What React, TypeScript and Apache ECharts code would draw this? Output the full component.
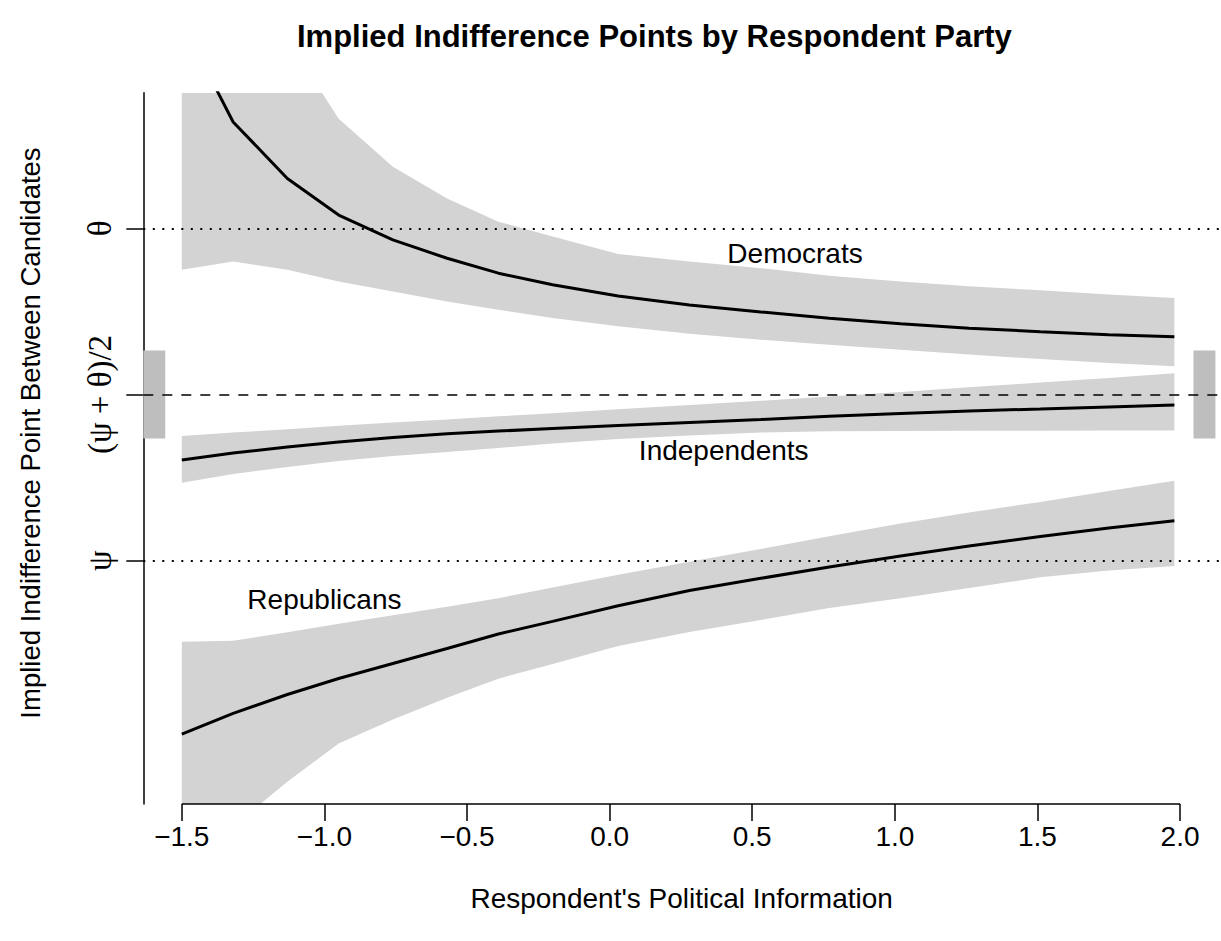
import React, { useEffect, useRef } from "react";
import * as echarts from "echarts";

// ---- data ----
const xValues = [-1.5, -1.32, -1.13, -0.95, -0.76, -0.57, -0.39, -0.2, 0.03, 0.28, 0.53, 0.77, 1.02, 1.26, 1.51, 1.75, 1.98];

const demLine = [2.24, 1.64, 1.3, 1.08, 0.93, 0.82, 0.73, 0.66, 0.593, 0.539, 0.497, 0.459, 0.426, 0.399, 0.378, 0.36, 0.348];
const demUpper = [3.3, 2.7, 2.14, 1.66, 1.37, 1.18, 1.04, 0.95, 0.845, 0.8, 0.76, 0.715, 0.68, 0.652, 0.627, 0.602, 0.58];
const demLower = [0.75, 0.8, 0.75, 0.68, 0.62, 0.56, 0.51, 0.46, 0.41, 0.365, 0.33, 0.3, 0.27, 0.24, 0.213, 0.19, 0.17];

const indLine = [-0.394, -0.352, -0.316, -0.286, -0.259, -0.236, -0.22, -0.205, -0.187, -0.168, -0.15, -0.131, -0.114, -0.099, -0.087, -0.075, -0.063];
const indUpper = [-0.25, -0.229, -0.209, -0.188, -0.168, -0.15, -0.131, -0.113, -0.088, -0.063, -0.038, -0.012, 0.015, 0.043, 0.072, 0.1, 0.128];
const indLower = [-0.531, -0.478, -0.436, -0.4, -0.37, -0.346, -0.322, -0.295, -0.268, -0.247, -0.229, -0.221, -0.22, -0.218, -0.218, -0.217, -0.217];

const repLine = [-2.043, -1.919, -1.805, -1.709, -1.619, -1.528, -1.441, -1.365, -1.271, -1.179, -1.106, -1.038, -0.972, -0.911, -0.854, -0.803, -0.759];
const repUpper = [-1.487, -1.481, -1.431, -1.38, -1.329, -1.277, -1.226, -1.162, -1.084, -1.007, -0.93, -0.853, -0.776, -0.71, -0.647, -0.581, -0.519];
const repLower = [-2.86, -2.6, -2.33, -2.1, -1.955, -1.825, -1.71, -1.622, -1.513, -1.429, -1.357, -1.285, -1.226, -1.164, -1.1, -1.059, -1.032];

const partyNames = ["Democrats", "Independents", "Republicans"];
const partyLabelX = [0.65, 0.4, -1.0];
const partyLabelY = [0.851, -0.334, -1.236];

// indifference-region markers at both sides: [x0, x1, y0, y1]
const sideRects = [
  [-1.635, -1.558, -0.265, 0.265],
  [2.047, 2.124, -0.265, 0.265],
];

const xTicks = [-1.5, -1.0, -0.5, 0.0, 0.5, 1.0, 1.5, 2.0];
const yTicks = [-1, 0, 1];
const yTickLabels = ["ψ", "(ψ + θ)/2", "θ"];
const refLevels = [1, 0, -1];

const X_MIN = -1.635;
const X_MAX = 2.14;
const Y_MIN = -2.464;
const Y_MAX = 1.816;

const SANS = "'Liberation Sans', Arial, Helvetica, sans-serif";
const SERIF = "'Liberation Serif', 'DejaVu Serif', 'Times New Roman', serif";

function bandSeries(upper: number[], lower: number[]) {
  return {
    type: "custom",
    coordinateSystem: "cartesian2d",
    clip: true,
    z: 3,
    silent: true,
    data: [[xValues[0], lower[0]]],
    renderItem: (params: any, api: any) => {
      const pts: number[][] = [];
      for (let i = 0; i < xValues.length; i++) pts.push(api.coord([xValues[i], upper[i]]));
      for (let i = xValues.length - 1; i >= 0; i--) pts.push(api.coord([xValues[i], lower[i]]));
      const cs = params.coordSys;
      return {
        type: "polygon",
        shape: { points: pts },
        style: { fill: "#D3D3D3", stroke: null },
        clipPath: { type: "rect", shape: { x: cs.x, y: cs.y, width: cs.width, height: cs.height } },
      };
    },
  };
}

function lineSeries(vals: number[]) {
  return {
    type: "line",
    data: xValues.map((x, i) => [x, vals[i]]),
    symbol: "none",
    clip: true,
    z: 5,
    silent: true,
    lineStyle: { color: "#000", width: 3 },
  };
}

export default function App() {
  const ref = useRef<HTMLDivElement>(null);
  useEffect(() => {
    if (!ref.current) return;
    const chart = echarts.init(ref.current, undefined, { renderer: "svg" });
    const option: any = {
      animation: false,
      backgroundColor: "#fff",
      title: {
        text: "Implied Indifference Points by Respondent Party",
        left: 292,
        top: 16,
        textStyle: { fontFamily: SANS, fontWeight: "bold", fontSize: 31, color: "#000" },
      },
      grid: { left: 143.3, right: 1, top: 92.7, bottom: 137 },
      xAxis: {
        type: "value",
        min: X_MIN,
        max: X_MAX,
        splitLine: { show: false },
        axisLine: { show: false, onZero: false },
        axisTick: { show: true, customValues: xTicks, length: 17, lineStyle: { color: "#000", width: 1.5 } },
        axisLabel: {
          customValues: xTicks,
          fontFamily: SANS,
          fontSize: 28,
          color: "#000",
          margin: 18,
          formatter: (v: number) => v.toFixed(1).replace("-", "\u2212"),
        },
        name: "Respondent's Political Information",
        nameLocation: "middle",
        nameGap: 80,
        nameTextStyle: { fontFamily: SANS, fontSize: 28, color: "#000" },
      },
      yAxis: {
        type: "value",
        min: Y_MIN,
        max: Y_MAX,
        splitLine: { show: false },
        axisLine: { show: true, onZero: false, lineStyle: { color: "#000", width: 1.5 } },
        axisTick: { show: true, customValues: yTicks, length: 17, lineStyle: { color: "#000", width: 1.5 } },
        axisLabel: {
          customValues: yTicks,
          rotate: 90,
          fontFamily: SERIF,
          fontSize: 33,
          color: "#000",
          margin: 27,
          formatter: (v: number) => {
            const i = yTicks.findIndex((t) => Math.abs(t - v) < 1e-6);
            return i >= 0 ? yTickLabels[i] : "";
          },
        },
      },
      graphic: [
        {
          type: "text",
          x: 30,
          y: 433,
          rotation: Math.PI / 2,
          style: {
            text: "Implied Indifference Point Between Candidates",
            fontFamily: SANS,
            fontSize: 27.5,
            fill: "#000",
            align: "center",
            verticalAlign: "middle",
          },
        },
      ],
      series: [
        {
          type: "line",
          data: [],
          z: 1,
          silent: true,
          markLine: {
            silent: true,
            symbol: ["none", "none"],
            label: { show: false },
            data: refLevels.map((lv) => ({
              yAxis: lv,
              lineStyle: {
                color: "#000",
                width: lv === 0 ? 1.6 : 1.8,
                type: lv === 0 ? [10, 9] : [2, 7.5],
              },
            })),
          },
        },
        bandSeries(demUpper, demLower),
        bandSeries(indUpper, indLower),
        bandSeries(repUpper, repLower),
        {
          type: "custom",
          coordinateSystem: "cartesian2d",
          z: 4,
          silent: true,
          data: sideRects,
          renderItem: (_p: any, api: any) => {
            const a = api.coord([api.value(0), api.value(3)]);
            const b = api.coord([api.value(1), api.value(2)]);
            return {
              type: "rect",
              shape: { x: a[0], y: a[1], width: b[0] - a[0], height: b[1] - a[1] },
              style: { fill: "#BEBEBE" },
            };
          },
        },
        lineSeries(demLine),
        lineSeries(indLine),
        lineSeries(repLine),
        {
          type: "line",
          data: [
            [xTicks[0], Y_MIN],
            [xTicks[xTicks.length - 1], Y_MIN],
          ],
          symbol: "none",
          clip: false,
          z: 6,
          silent: true,
          lineStyle: { color: "#000", width: 1.5 },
        },
        {
          type: "custom",
          coordinateSystem: "cartesian2d",
          z: 6,
          silent: true,
          data: partyNames.map((n, i) => [partyLabelX[i], partyLabelY[i], i]),
          renderItem: (_p: any, api: any) => {
            const pt = api.coord([api.value(0), api.value(1)]);
            const idx = api.value(2);
            return {
              type: "text",
              x: pt[0],
              y: pt[1],
              style: {
                text: partyNames[idx],
                fontFamily: SANS,
                fontSize: 28,
                fill: "#000",
                align: "center",
                verticalAlign: "middle",
              },
            };
          },
        },
      ],
    };
    chart.setOption(option);
    return () => chart.dispose();
  }, []);
  return <div ref={ref} style={{ position: "absolute", left: 0, top: 0, width: 1221, height: 941 }} />;
}
